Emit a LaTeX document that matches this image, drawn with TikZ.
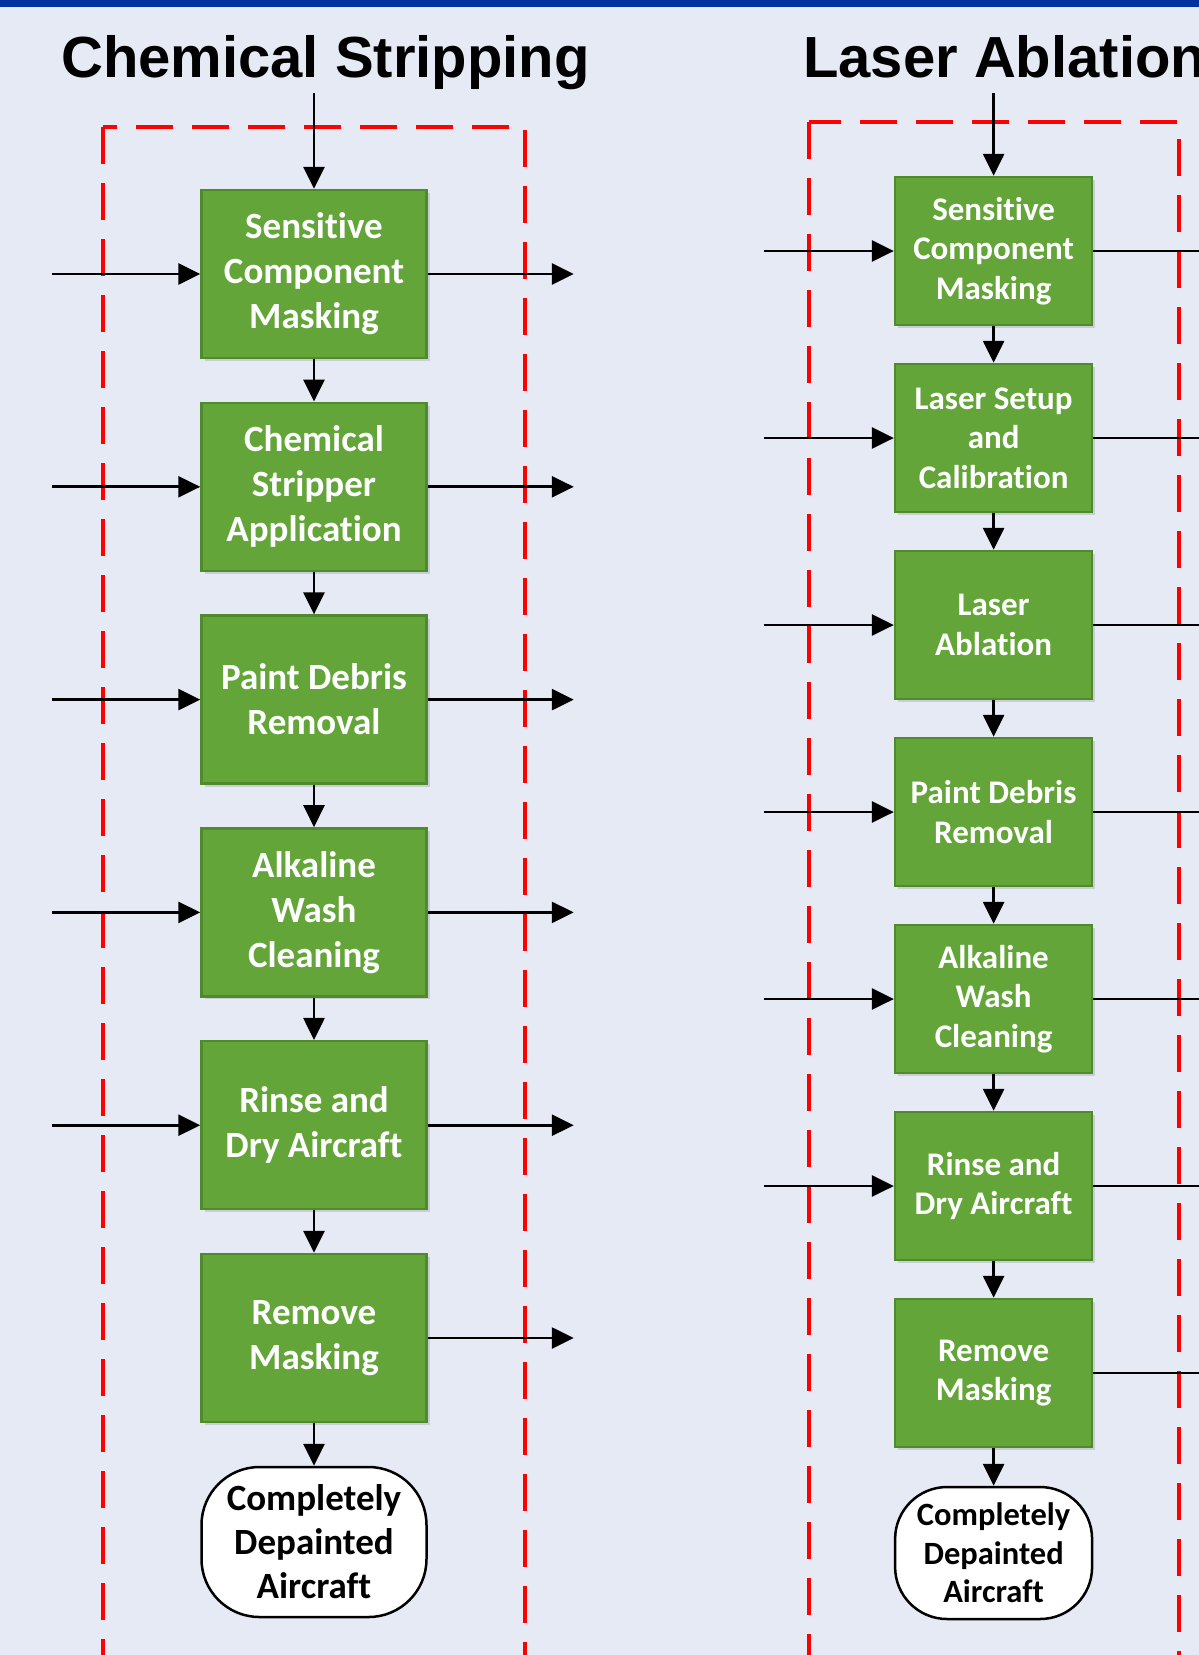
\documentclass[tikz,border=0pt]{standalone}
\usepackage{fontspec}
\setmainfont{Carlito}[Ligatures=NoCommon]
\newfontfamily\headfont{Liberation Sans}
\usetikzlibrary{positioning,arrows.meta,shadows}

\definecolor{pagebg}{HTML}{E6EAF5}
\definecolor{barblue}{HTML}{0033A0}
\definecolor{stepgreen}{HTML}{64A53A}
\definecolor{stepedge}{HTML}{4F8A2D}
\definecolor{framered}{HTML}{FF0000}

\tikzset{
  stepbox/.style={draw=stepedge, line width=2.5pt, fill=stepgreen, text=white,
    align=center, inner sep=0pt,
    drop shadow={shadow xshift=3pt, shadow yshift=-3pt, opacity=0.12, fill=black}},
  chembox/.style={stepbox, minimum width=225pt, minimum height=168pt,
    font=\fontsize{37}{45}\selectfont\bfseries},
  laserbox/.style={stepbox, minimum width=197pt, minimum height=148pt,
    font=\fontsize{33}{39.6}\selectfont\bfseries},
  endbox/.style={draw=black, line width=2.5pt, fill=white, align=center, inner sep=0pt},
  flow/.style={line width=2.8pt, -{Triangle[length=22pt,width=21pt]}},
  wire/.style={line width=2.8pt},
  redframe/.style={draw=framered, line width=4.3pt, dash pattern=on 37pt off 19pt},
  headline/.style={font=\headfont\fontsize{58}{70}\selectfont\bfseries, inner sep=0pt, anchor=base west}
}

\begin{document}
\begin{tikzpicture}[x=1pt,y=-1pt]
\clip (0,0) rectangle (1199,1655);
\fill[pagebg] (0,0) rectangle (1199,1655);
\fill[barblue] (0,0) rectangle (1199,7);

% titles
\node[headline] (chemtitle) at (61,77) {Chemical Stripping};
\node[headline] (lasertitle) at (803,77) {Laser Ablation};

% dashed frames
\draw[redframe] (103,127) rectangle (525,1700);
\draw[redframe] (809,122) rectangle (1179,1700);

% chemical stripping column
\foreach \i/\txt in {1/{Sensitive\\Component\\Masking},2/{Chemical\\Stripper\\Application},
  3/{Paint Debris\\Removal},4/{Alkaline\\Wash\\Cleaning},5/{Rinse and\\Dry Aircraft},6/{Remove\\Masking}}
  \node[chembox] (c\i) at (314,{274+(\i-1)*212.8}) {\txt};
\node[endbox, minimum width=225pt, minimum height=150pt, rounded corners=58pt,
  font=\fontsize{37}{44}\selectfont\bfseries] (cend) at (314,1542) {Completely\\Depainted\\Aircraft};

\coordinate (ctop) at (314,93);
\draw[flow] (ctop) -- (c1);
\foreach \i [evaluate=\i as \j using int(\i+1)] in {1,...,5}
  \draw[flow] (c\i) -- (c\j);
\draw[flow] (c6) -- (cend);
\foreach \i in {1,...,5}{
  \coordinate[left=148pt of c\i.west] (cin\i);
  \draw[flow] (cin\i) -- (c\i.west);
}
\foreach \i in {1,...,6}{
  \coordinate[right=146pt of c\i.east] (cout\i);
  \draw[flow] (c\i.east) -- (cout\i);
}

% laser ablation column
\foreach \i/\txt in {1/{Sensitive\\Component\\Masking},2/{Laser Setup\\and\\Calibration},3/{Laser\\Ablation},
  4/{Paint Debris\\Removal},5/{Alkaline\\Wash\\Cleaning},6/{Rinse and\\Dry Aircraft},7/{Remove\\Masking}}
  \node[laserbox] (a\i) at (993.6,{251+(\i-1)*187}) {\txt};
\node[endbox, minimum width=197pt, minimum height=132pt, rounded corners=52pt,
  font=\fontsize{32.5}{38.5}\selectfont\bfseries] (aend) at (993.6,1553) {Completely\\Depainted\\Aircraft};

\coordinate (atop) at (993.6,93);
\draw[flow] (atop) -- (a1);
\foreach \i [evaluate=\i as \j using int(\i+1)] in {1,...,6}
  \draw[flow] (a\i) -- (a\j);
\draw[flow] (a7) -- (aend);
\foreach \i in {1,...,6}{
  \coordinate[left=130pt of a\i.west] (ain\i);
  \draw[flow] (ain\i) -- (a\i.west);
}
\foreach \i in {1,...,7}{
  \coordinate[right=120pt of a\i.east] (aout\i);
  \draw[wire] (a\i.east) -- (aout\i);
}
\end{tikzpicture}
\end{document}
